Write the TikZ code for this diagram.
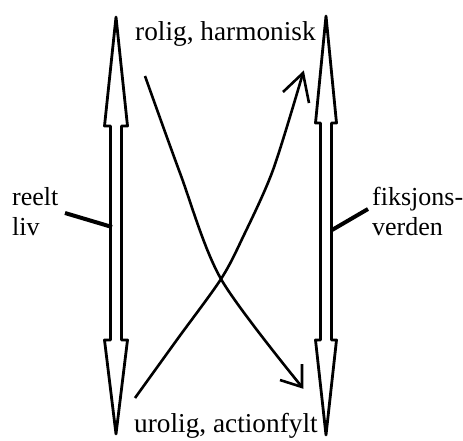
\documentclass[tikz,border=0pt]{standalone}
\usepackage{fontspec}
\setmainfont{Liberation Serif}
\begin{document}
\begin{tikzpicture}[x=1pt,y=-1pt]
\useasboundingbox (0,0) rectangle (463,440);
\tikzset{
  blockarrow/.style={draw, line width=2.8pt, line join=round},
  pointer/.style={line width=4pt},
  curve/.style={line width=2.6pt, line join=miter},
  txt/.style={font=\fontsize{27.3}{30}\selectfont, inner sep=0pt, anchor=base west, align=left},
  sidetxt/.style={txt, font=\fontsize{26}{30}\selectfont},
}
% double-headed block arrows
\draw[blockarrow] (116,17) -- (127.5,126) -- (121.5,126) -- (121.5,340) -- (127.5,340)
  -- (116,434) -- (104.5,340) -- (110.5,340) -- (110.5,126) -- (104.5,126) -- cycle;
\draw[blockarrow] (326,16) -- (336.5,123) -- (331.5,123) -- (331.5,340) -- (336.5,340)
  -- (326,435) -- (315.5,340) -- (320.5,340) -- (320.5,123) -- (315.5,123) -- cycle;
\coordinate (leftshaft) at (112,227);
\coordinate (rightshaft) at (332,230);

% labels (base anchor sits on the last line)
\node[txt] (top) at (135,40) {rolig, harmonisk};
\node[txt] (bottom) at (134,432) {urolig, actionfylt};
\node[sidetxt] (reelt) at (12,235) {reelt\\liv};
\node[sidetxt] (fiksjon) at (372,235) {fiksjons-\\verden};
\coordinate (reeltend) at (65,213);
\coordinate (fiksjonend) at (368,209);
\draw[pointer] (reeltend) -- (leftshaft);
\draw[pointer] (fiksjonend) -- (rightshaft);

% crossing curves with open heads
\coordinate (c1tip) at (302,387);
\coordinate (c2tip) at (303,73);
\draw[curve] plot[smooth] coordinates {(145,76) (180,173) (221,279) (c1tip)};
\draw[curve] (280,380) -- (c1tip) -- (302,364);
\draw[curve] plot[smooth] coordinates {(135,398) (177.5,339) (221,279) (243,237) (273,170) (c2tip)};
\draw[curve] (283,92) -- (c2tip) -- (309,103);
\end{tikzpicture}
\end{document}
